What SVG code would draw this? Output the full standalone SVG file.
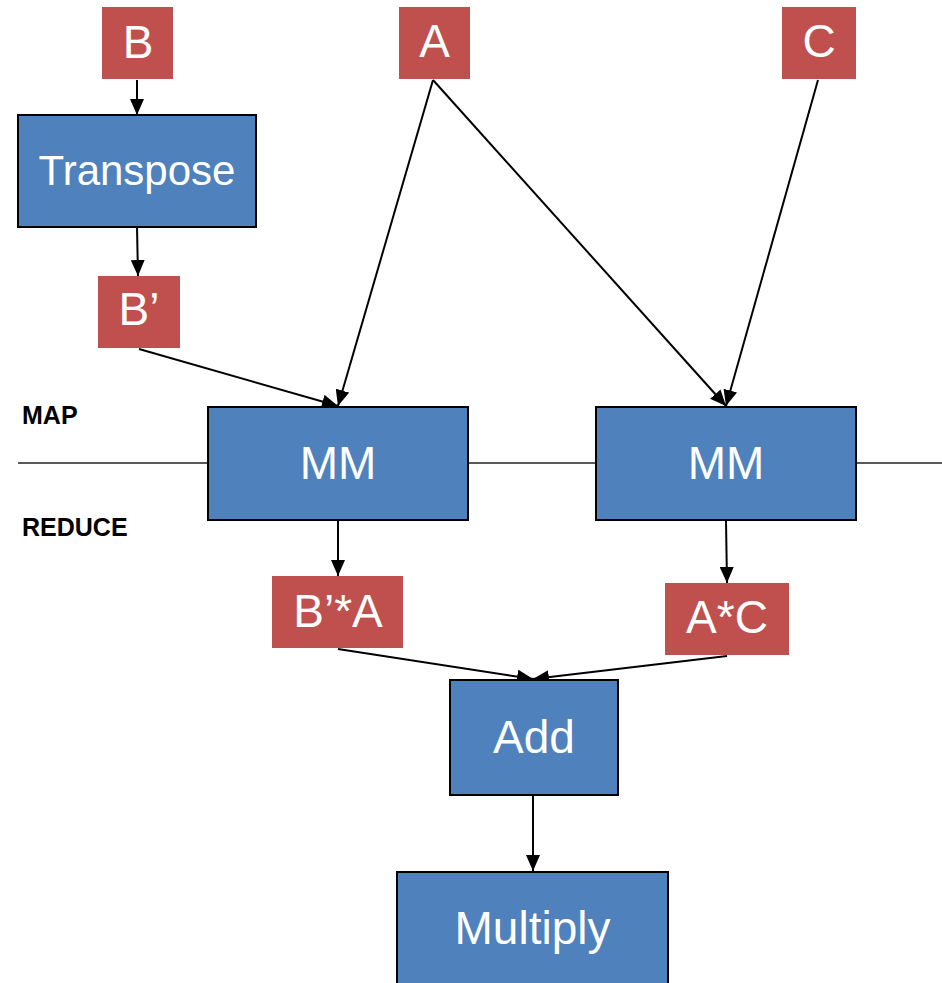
<svg xmlns="http://www.w3.org/2000/svg" width="942" height="983" viewBox="0 0 942 983">
  <style>
    .data { fill: #C0504D; }
    .op { fill: #4F81BD; stroke: #000; stroke-width: 2; }
    .lbl { fill: #fff; font-family: "Liberation Sans", Arial, sans-serif; font-size: 46px; text-anchor: middle; }
    .phase { fill: #000; font-family: "Liberation Sans", Arial, sans-serif; font-size: 25px; font-weight: bold; }
    .edge { stroke: #000; stroke-width: 2; fill: none; marker-end: url(#arrow); }
  </style>
  <defs>
    <marker id="arrow" markerUnits="userSpaceOnUse" markerWidth="16" markerHeight="14" refX="16" refY="7" orient="auto">
      <path d="M0,0 L16,7 L0,14 z" fill="#000"/>
    </marker>
  </defs>
  <rect width="942" height="983" fill="#fff"/>

  <!-- map / reduce boundary -->
  <g id="phase-divider">
    <line x1="18" y1="463" x2="942" y2="463" stroke="#222" stroke-width="1.5"/>
    <text class="phase" x="22" y="424">MAP</text>
    <text class="phase" x="22" y="536">REDUCE</text>
  </g>

  <g id="connectors">
    <line class="edge" x1="137" y1="80" x2="137" y2="115"/>
    <line class="edge" x1="137" y1="227" x2="138" y2="276"/>
    <line class="edge" x1="139" y1="349" x2="338" y2="406"/>
    <line class="edge" x1="433" y1="80" x2="338" y2="406"/>
    <line class="edge" x1="433" y1="80" x2="726" y2="406"/>
    <line class="edge" x1="818" y1="80" x2="726" y2="406"/>
    <line class="edge" x1="338" y1="521" x2="338" y2="576"/>
    <line class="edge" x1="726" y1="521" x2="727" y2="583"/>
    <line class="edge" x1="338" y1="649" x2="533" y2="679"/>
    <line class="edge" x1="727" y1="656" x2="533" y2="679"/>
    <line class="edge" x1="533" y1="796" x2="533" y2="871"/>
  </g>

  <g id="B">
    <rect class="data" x="102" y="7" width="71" height="72"/>
    <text class="lbl" x="138" y="58">B</text>
  </g>
  <g id="A">
    <rect class="data" x="399" y="7" width="71" height="72"/>
    <text class="lbl" x="434.5" y="57">A</text>
  </g>
  <g id="C">
    <rect class="data" x="782" y="7" width="74" height="72"/>
    <text class="lbl" x="819" y="57">C</text>
  </g>
  <g id="transpose">
    <rect class="op" x="18" y="115" width="238" height="112"/>
    <text class="lbl" x="137" y="185" style="font-size:42px">Transpose</text>
  </g>
  <g id="B-prime">
    <rect class="data" x="98" y="276" width="82" height="72"/>
    <text class="lbl" x="139" y="325">B’</text>
  </g>
  <g id="mm-left">
    <rect class="op" x="208" y="407" width="260" height="113"/>
    <text class="lbl" x="338" y="479">MM</text>
  </g>
  <g id="mm-right">
    <rect class="op" x="596" y="407" width="260" height="113"/>
    <text class="lbl" x="726" y="479">MM</text>
  </g>
  <g id="BprimeA">
    <rect class="data" x="272" y="576" width="131" height="72"/>
    <text class="lbl" x="338" y="627">B’*A</text>
  </g>
  <g id="AC">
    <rect class="data" x="665" y="583" width="124" height="72"/>
    <text class="lbl" x="727" y="633">A*C</text>
  </g>
  <g id="add">
    <rect class="op" x="450" y="680" width="168" height="115"/>
    <text class="lbl" x="534" y="753">Add</text>
  </g>
  <g id="multiply">
    <rect class="op" x="397" y="872" width="271" height="125"/>
    <text class="lbl" x="532.5" y="944">Multiply</text>
  </g>
</svg>
